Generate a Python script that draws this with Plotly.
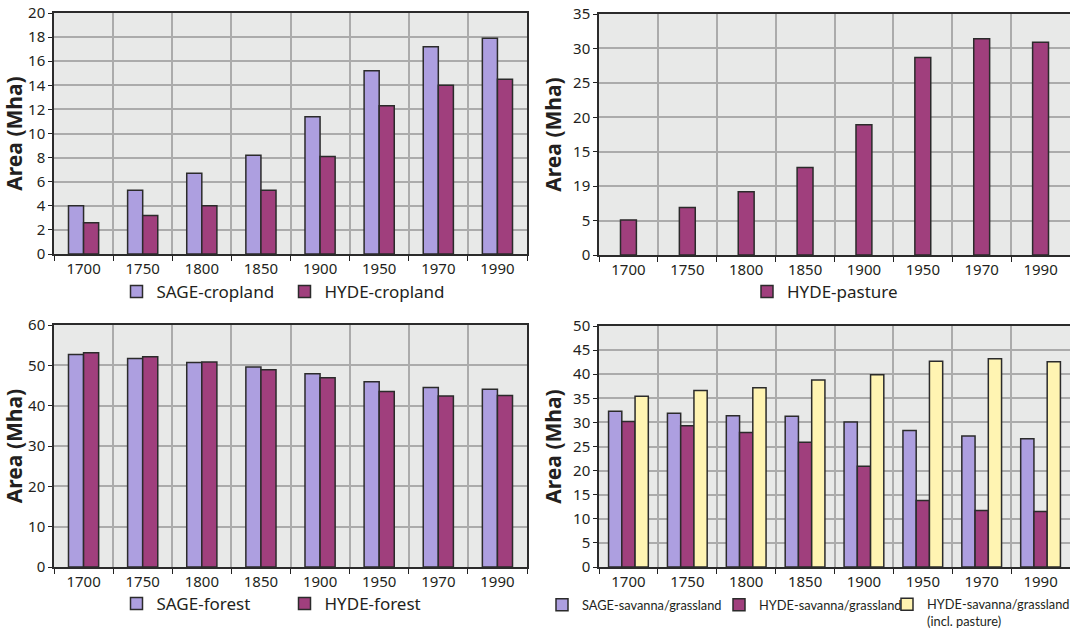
import plotly.graph_objects as go

# ---- data (Mha) ----
years = ["1700", "1750", "1800", "1850", "1900", "1950", "1970", "1990"]

sage_cropland = [4.0, 5.3, 6.7, 8.2, 11.4, 15.2, 17.2, 17.9]
hyde_cropland = [2.6, 3.2, 4.0, 5.3, 8.1, 12.3, 14.0, 14.5]

hyde_pasture = [5.1, 6.9, 9.2, 12.7, 18.9, 28.7, 31.4, 30.9]
pasture_tickvals = [0, 5, 10, 15, 20, 25, 30, 35]
pasture_ticktext = ["0", "5", "19", "15", "20", "25", "30", "35"]

sage_forest = [52.7, 51.7, 50.7, 49.6, 47.9, 45.9, 44.5, 44.1]
hyde_forest = [53.1, 52.1, 50.8, 48.9, 46.9, 43.5, 42.4, 42.5]

sage_savanna = [32.3, 31.9, 31.4, 31.3, 30.1, 28.3, 27.2, 26.6]
hyde_savanna = [30.2, 29.3, 27.9, 25.9, 20.9, 13.8, 11.7, 11.5]
hyde_savanna_pasture = [35.4, 36.6, 37.2, 38.8, 39.9, 42.7, 43.2, 42.6]

# ---- styling ----
W, H = 1070, 631
FONT = "Noto Sans, Open Sans, sans-serif"
NARROW = "Lato, Roboto, Noto Sans, sans-serif"
C_SAGE = "#ad9fe0"
C_HYDE = "#a03f7d"
C_YELLOW = "#fff4b2"
EDGE = "#2b2b2b"
PLOT_BG = "#e8e9e8"
GRID = "#ababab"


def px_x(v):
    return v / W


def px_y(v):
    return 1 - v / H


fig = go.Figure()


def add_bar(xa, ya, values, name, color, width, offset, legend):
    fig.add_trace(go.Bar(
        x=years, y=values, name=name, xaxis=xa, yaxis=ya,
        width=width, offset=offset,
        marker=dict(color=color, line=dict(color=EDGE, width=1.5)),
        legend=legend, showlegend=True,
    ))


# cropland
add_bar("x", "y", sage_cropland, "SAGE-cropland", C_SAGE, 0.255, -0.255, "legend")
add_bar("x", "y", hyde_cropland, "HYDE-cropland", C_HYDE, 0.255, 0.0, "legend")
# pasture
add_bar("x2", "y2", hyde_pasture, "HYDE-pasture", C_HYDE, 0.27, -0.135, "legend2")
# forest
add_bar("x3", "y3", sage_forest, "SAGE-forest", C_SAGE, 0.255, -0.255, "legend3")
add_bar("x3", "y3", hyde_forest, "HYDE-forest", C_HYDE, 0.255, 0.0, "legend3")
# savanna / grassland
add_bar("x4", "y4", sage_savanna, "SAGE-savanna/grassland", C_SAGE, 0.225, -0.3375, "legend4")
add_bar("x4", "y4", hyde_savanna, "HYDE-savanna/grassland", C_HYDE, 0.225, -0.1125, "legend5")
add_bar("x4", "y4", hyde_savanna_pasture, "HYDE-savanna/grassland<br>(incl. pasture)",
        C_YELLOW, 0.225, 0.1125, "legend6")

tick_font = dict(family=FONT, size=15, color="#231f20")
title_font = dict(family=FONT, size=21, color="#231f20")


def xaxis(domain, anchor):
    return dict(
        domain=domain, anchor=anchor, type="category",
        tickson="boundaries", ticks="outside", ticklen=5, tickwidth=1.2, tickcolor="#222",
        showgrid=True, gridcolor=GRID, gridwidth=1.5,
        showline=True, linecolor=EDGE, linewidth=1.5, mirror=True,
        tickfont=tick_font, fixedrange=True,
    )


def yaxis(domain, anchor, rng, dtick, tickvals=None, ticktext=None):
    d = dict(
        domain=domain, anchor=anchor, range=rng, dtick=dtick,
        ticks="outside", ticklen=4, tickwidth=1.2, tickcolor="#222",
        showgrid=True, gridcolor=GRID, gridwidth=1.5, zeroline=False,
        showline=True, linecolor=EDGE, linewidth=1.5, mirror=True,
        tickfont=tick_font,
        title=dict(text="<b>Area (Mha)</b>", font=title_font, standoff=6),
        fixedrange=True,
    )
    if tickvals is not None:
        d.update(tickmode="array", tickvals=tickvals, ticktext=ticktext)
    return d


xl = [px_x(54), px_x(527)]
xr = [px_x(599), 1.0]
yt_l = [px_y(254), px_y(13)]
yt_r = [px_y(255), px_y(14)]
yb_l = [px_y(567), px_y(325)]
yb_r = [px_y(567), px_y(326)]

leg_font = dict(family=FONT, size=17, color="#231f20")
leg_small = dict(family=NARROW, size=12.8, color="#231f20")


def legend(xc, yc, font, entrywidth=None):
    d = dict(
        xref="container", yref="container",
        x=px_x(xc - 20), y=px_y(yc), xanchor="left", yanchor="middle",
        orientation="h", font=font, bgcolor="rgba(0,0,0,0)",
        borderwidth=0, valign="top", tracegroupgap=0, itemclick=False,
        itemdoubleclick=False,
    )
    if entrywidth is not None:
        d.update(entrywidth=entrywidth, entrywidthmode="pixels")
    return d


fig.update_layout(
    width=W, height=H,
    margin=dict(l=0, r=0, t=0, b=0, autoexpand=False),
    paper_bgcolor="white", plot_bgcolor=PLOT_BG,
    barmode="overlay",
    xaxis=xaxis(xl, "y"),
    yaxis=yaxis(yt_l, "x", [0, 20], 2),
    xaxis2=xaxis(xr, "y2"),
    yaxis2=yaxis(yt_r, "x2", [0, 35], 5, pasture_tickvals, pasture_ticktext),
    xaxis3=xaxis(xl, "y3"),
    yaxis3=yaxis(yb_l, "x3", [0, 60], 10),
    xaxis4=xaxis(xr, "y4"),
    yaxis4=yaxis(yb_r, "x4", [0, 50], 5),
    legend=legend(136.5, 292, leg_font, 123),
    legend2=legend(767, 292, leg_font),
    legend3=legend(136.5, 604, leg_font, 123),
    legend4=legend(562, 605, leg_small),
    legend5=legend(739, 605, leg_small),
    legend6=legend(907, 613, leg_small),
    showlegend=True,
)

fig.write_html("out.html")
